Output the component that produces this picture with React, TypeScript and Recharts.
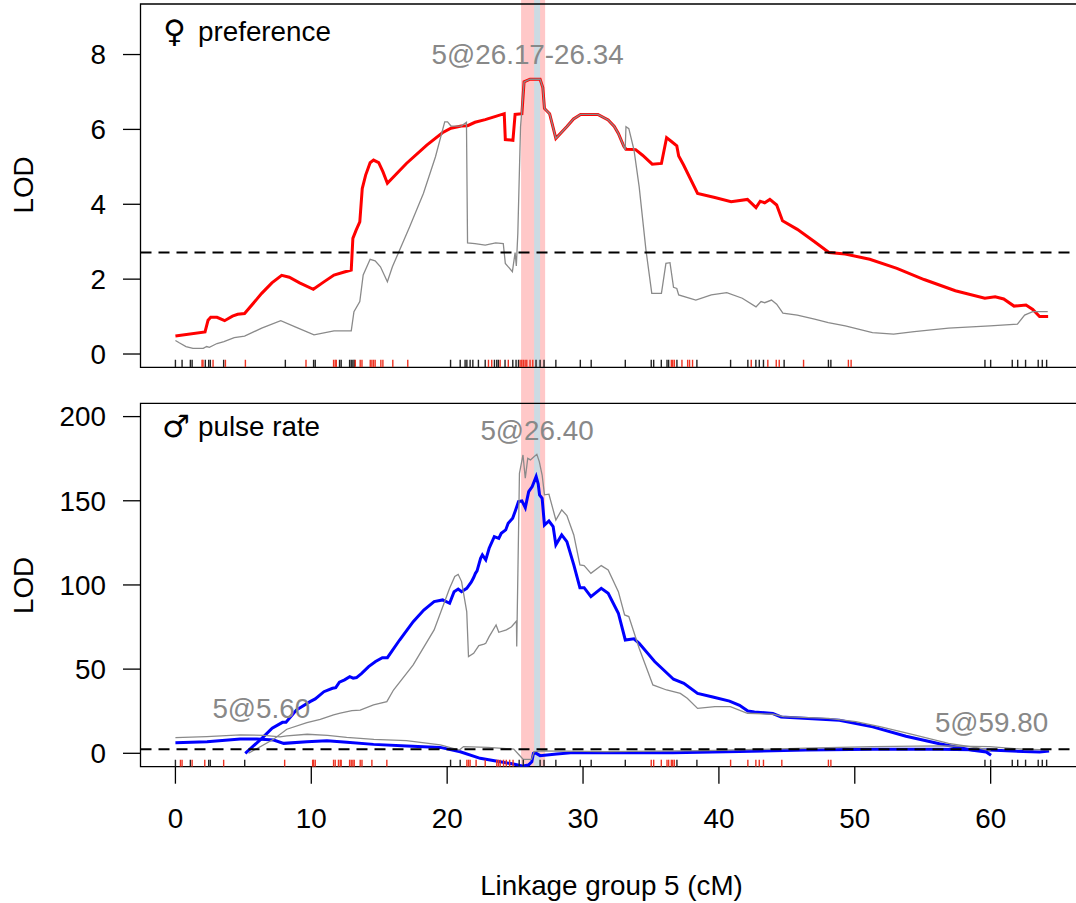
import React from 'react';
import { ComposedChart, Line, XAxis, YAxis, ReferenceLine, ReferenceArea, Scatter } from 'recharts';

// ---------- data ----------
const xTicks = [0, 10, 20, 30, 40, 50, 60];
const prefTicks = [0, 2, 4, 6, 8];
const pulseTicks = [0, 50, 100, 150, 200];
const prefThreshold = 2.71;
const pulseThreshold = 2.4;
const bandOuter = [25.44, 27.21];
const bandInner = [26.4, 26.84];

const prefRed: number[][] = [
  [0, 0.48], [2.18, 0.59], [2.4, 0.9], [2.6, 0.98], [3.06, 0.98], [3.62, 0.89], [4.2, 1.01], [4.58, 1.06],
  [5.09, 1.08], [6.35, 1.62], [7.1, 1.9], [7.82, 2.1], [8.38, 2.05], [9.14, 1.9], [10.15, 1.73], [10.9, 1.92],
  [11.67, 2.11], [12.43, 2.19], [12.94, 2.24], [13.06, 3.09], [13.3, 3.31], [13.57, 3.53], [13.75, 4.42],
  [14.0, 4.78], [14.33, 5.11], [14.58, 5.18], [14.96, 5.11], [15.27, 4.87], [15.6, 4.56], [17.0, 5.09],
  [18.5, 5.58], [19.65, 5.91], [20.28, 6.03], [21.04, 6.09], [21.5, 6.1], [22.05, 6.19], [22.8, 6.26],
  [23.57, 6.35], [24.2, 6.42], [24.28, 5.73], [24.84, 5.71], [25.0, 6.4], [25.5, 6.42], [25.66, 7.27],
  [26.1, 7.34], [26.84, 7.34], [27.04, 7.12], [27.16, 6.56], [27.54, 6.42], [28.0, 5.76], [28.8, 6.07],
  [29.3, 6.28], [29.82, 6.4], [31.09, 6.4], [31.85, 6.25], [32.3, 6.08], [32.6, 5.89], [33.0, 5.55],
  [33.16, 5.47], [33.87, 5.46], [34.38, 5.31], [35.09, 5.07], [35.77, 5.09], [36.15, 5.78], [36.53, 5.67],
  [36.9, 5.56], [37.04, 5.29], [37.4, 5.05], [38.43, 4.29], [39.7, 4.18], [40.9, 4.07], [42.1, 4.13],
  [42.73, 3.91], [43.04, 4.08], [43.37, 4.04], [43.75, 4.13], [44.25, 3.98], [44.68, 3.56], [45.77, 3.33],
  [47.04, 3.0], [48.1, 2.71], [49.3, 2.67], [51.1, 2.53], [53.1, 2.29], [55.1, 1.99], [57.4, 1.69],
  [59.57, 1.49], [60.33, 1.53], [60.96, 1.47], [61.72, 1.28], [62.6, 1.31], [63.1, 1.19], [63.6, 1.0], [64.23, 1.0],
];

const prefGray: number[][] = [
  [0, 0.36], [0.28, 0.3], [0.78, 0.2], [1.29, 0.15], [2.05, 0.15], [2.3, 0.2], [2.5, 0.18], [3.06, 0.28],
  [3.57, 0.33], [4.33, 0.44], [5.09, 0.48], [6.35, 0.69], [7.75, 0.89], [8.9, 0.71], [10.2, 0.51], [11.67, 0.62],
  [12.94, 0.62], [13.14, 1.13], [13.57, 1.4], [13.82, 2.11], [14.33, 2.53], [14.7, 2.49], [15.09, 2.33],
  [15.6, 1.93], [15.97, 2.33], [17.24, 3.4], [18.25, 4.29], [19.14, 5.27], [19.82, 6.2], [20.03, 6.2],
  [20.28, 6.09], [21.04, 6.09], [21.42, 6.19], [21.5, 2.97], [22.05, 2.95], [22.8, 2.91], [23.57, 2.97],
  [24.13, 2.95], [24.28, 2.42], [24.8, 2.2], [25.0, 2.71], [25.09, 2.35], [25.2, 3.22], [25.4, 6.07],
  [25.66, 7.27], [26.1, 7.34], [26.84, 7.34], [27.04, 7.12], [27.16, 6.56], [27.54, 6.42], [28.0, 5.76],
  [28.8, 6.07], [29.3, 6.28], [29.82, 6.4], [31.09, 6.4], [31.85, 6.25], [32.3, 6.08], [32.6, 5.89],
  [33.0, 5.55], [33.1, 5.45], [33.16, 6.07], [33.37, 6.02], [33.75, 5.45], [34.13, 4.47], [34.63, 2.78],
  [35.06, 1.62], [35.77, 1.62], [36.1, 2.42], [36.4, 2.44], [36.66, 1.78], [36.9, 1.75], [37.04, 1.58],
  [38.3, 1.44], [39.44, 1.58], [40.58, 1.64], [41.72, 1.49], [42.73, 1.26], [43.1, 1.4], [43.37, 1.37],
  [43.87, 1.44], [44.25, 1.33], [44.71, 1.09], [45.77, 1.04], [47.04, 0.93], [48.05, 0.84], [49.3, 0.75],
  [51.3, 0.57], [52.86, 0.53], [54.38, 0.6], [56.9, 0.69], [59.95, 0.75], [61.97, 0.8], [62.5, 1.04],
  [63.1, 1.13], [64.2, 1.13],
];

const pulseBlueMain: number[][] = [
  [5.14, 0], [6.36, 8.9], [7.12, 14.9], [7.88, 18.4], [8.14, 18.4], [8.9, 25.7], [9.91, 30.7], [10.29, 32.3],
  [10.93, 36.6], [11.56, 38.6], [11.8, 39.0], [12.07, 42.2], [12.45, 43.6], [12.83, 45.5], [13.08, 44.6],
  [13.33, 45.0], [13.71, 47.5], [14.22, 51.5], [14.73, 54.5], [15.23, 56.8], [15.6, 56.8], [16.5, 67.3],
  [17.5, 78.2], [18.28, 85.1], [19.04, 90.1], [19.67, 91.1], [20.18, 89.1], [20.51, 96.0], [20.81, 97.6],
  [21.06, 96], [21.44, 98], [21.77, 101.6], [21.95, 104.4], [22.08, 106.9], [22.2, 108.3], [22.46, 115.8],
  [22.59, 117.8], [22.84, 114.9], [23.09, 121.8], [23.47, 128.7], [23.8, 127.7], [23.98, 130.7],
  [24.31, 132.7], [24.49, 136.6], [24.82, 139.6], [25.0, 143.6], [25.25, 149.5], [25.5, 149.9],
  [25.75, 145.9], [26.0, 155.4], [26.26, 158.4], [26.55, 164.4], [26.7, 160], [26.8, 153.5], [26.99, 151.5],
  [27.16, 135.6], [27.49, 138], [27.8, 134.7], [28.0, 123.8], [28.43, 129.7], [28.81, 125.7], [29.32, 111.9],
  [29.77, 98.4], [30.08, 98.4], [30.58, 93.1], [31.34, 98], [31.85, 95], [32.6, 83.2], [33.11, 67.3],
  [33.75, 68], [34.13, 65.3], [35.27, 54.5], [36.66, 44], [37.42, 41.6], [38.43, 35.6], [39.55, 33.4],
  [40.78, 31.0], [41.52, 28.5], [42.13, 25.1], [42.62, 24.6], [43.97, 23.6], [44.58, 21.6], [48.87, 19.6],
  [51.32, 15.7], [53.77, 10.1], [56.23, 5.7], [58.68, 1.8], [59.67, 0.8], [60.03, -1.2],
];

const pulseGrayMain: number[][] = [
  [5.38, 0], [7.22, 8.3], [8.2, 14.3], [9.68, 18.2], [10.66, 20.2], [11.64, 22.8], [12.13, 23.8], [12.99, 25.3],
  [13.6, 25.7], [14.58, 28.7], [15.56, 30.7], [16.05, 37.6], [17.5, 52.5], [19.04, 73.3], [20.18, 98],
  [20.56, 105], [20.81, 106.3], [21.06, 102], [21.44, 84.2], [21.57, 57.4], [21.95, 59.4], [22.33, 64],
  [22.71, 64.8], [22.84, 65.3], [23.09, 69.3], [23.6, 76.2], [23.8, 71.9], [24.36, 73.3], [24.74, 75.2],
  [25.1, 78.6], [25.12, 63.4], [25.32, 166.3], [25.58, 177.2], [25.75, 163.4], [25.93, 175.2], [26.13, 174.3],
  [26.39, 176.2], [26.6, 177.6], [26.78, 173.3], [26.99, 165.3], [27.16, 153.5], [27.49, 153.9], [28.0, 138.6],
  [28.43, 144.6], [28.81, 141.2], [29.32, 129.7], [29.77, 111.9], [30.08, 111.5], [30.58, 106.9],
  [31.34, 111.5], [31.85, 108.9], [32.6, 96], [33.06, 82.2], [33.37, 81.2], [34.13, 62.4], [35.14, 40.6],
  [36.15, 37.6], [37.16, 35.6], [37.67, 32.7], [38.43, 26.7], [39.7, 27.7], [40.84, 27.7], [42.1, 23.8],
  [44.0, 23.2], [44.76, 21.8], [48.05, 20.8], [50.08, 18.8], [51.85, 15.8], [54.38, 10.9], [56.9, 5.9],
  [59.2, 3.0], [60.0, 1.5],
];

const pulseBlueLow: number[][] = [
  [0, 6.3], [2.33, 6.9], [4.78, 8.5], [6.0, 8.5], [7.23, 7.9], [7.97, 5.9], [9.68, 6.9], [11.15, 7.5],
  [12.62, 6.5], [14.58, 5.3], [17.03, 4.3], [19.49, 3.5], [20.96, 0.9], [22.43, -3.0], [23.9, -5.0],
  [24.88, -6.4], [25.6, -7.6], [25.98, -7.0], [26.23, -5.0], [26.35, 0], [26.47, 0.4], [26.84, -1.4],
  [28.06, -0.4], [29.29, 0.4], [31.99, 0.4], [36.6, 0.4], [41.5, 1.0], [46.4, 2.0], [51.3, 2.4], [56.2, 2.4],
  [59.9, 2.0], [62.4, 1.0], [63.6, 0.8], [64.3, 1.4],
];

const pulseGrayLow: number[][] = [
  [0, 9.3], [2.3, 9.9], [4.8, 10.9], [6.5, 10.7], [7.7, 9.7], [8.2, 10.3], [9.7, 11.3], [11.2, 10.7],
  [12.6, 9.5], [14.6, 8.3], [17.0, 7.5], [19.5, 5.0], [20.9, 1.9], [21.2, 4.0], [23.0, 3.5], [24.9, 2.5],
  [25.3, -1], [25.6, -3.6], [26.2, -3.6], [26.4, 1], [27, 1.4], [31.7, 1.0], [39, 1.6], [46.4, 3.0],
  [51.3, 4.0], [56.2, 4.4], [59.9, 4.0], [62.4, 2.4], [64.3, 2.0],
];

const prefMarkersBlack = [0, 0.49, 1.1, 1.23, 2.2, 2.45, 2.57, 3.55, 8.09, 10.17, 10.29, 12.08, 12.2, 12.82, 12.94,
  13.06, 13.16, 20.25, 20.96, 21.32, 21.45, 21.69, 21.89, 22.3, 22.8, 23.48, 23.65, 23.77, 24.26, 24.83, 25.07,
  25.25, 26.54, 26.84, 27.13, 28.0, 29.8, 30.6, 33.11, 35.02, 35.2, 35.76, 36.18, 36.3, 36.91, 38.38, 40.86,
  42.13, 42.72, 42.97, 43.28, 44.8, 48.06, 48.24, 59.58, 60.0, 61.59, 61.99, 62.57, 63.5, 63.8, 64.12];
const prefMarkersRed = [1.96, 2.03, 2.77, 3.68, 5.15, 9.61, 11.64, 11.76, 11.84, 13.24, 13.6, 13.73, 14.34, 14.46,
  14.58, 14.7, 15.12, 15.27, 16.0, 17.1, 23.04, 23.28, 23.9, 24.5, 25.37, 25.49, 25.61, 25.74, 25.86, 26.1, 26.3,
  36.5, 36.6, 36.72, 37.28, 37.7, 37.84, 38.06, 42.38, 43.6, 44.22, 44.44, 46.23, 49.53, 49.73];
const pulseMarkersBlack = [0, 1.1, 2.45, 2.57, 5.1, 20.25, 20.96, 25.3, 25.6, 26.84, 27.13, 28.0, 29.8, 30.6, 33.11,
  36.91, 38.38, 59.58, 60.0, 61.59, 61.99, 62.57, 63.5, 63.8, 64.12];
const pulseMarkersRed = [0.37, 0.49, 1.23, 2.16, 3.55, 8.04, 10.1, 10.17, 10.29, 11.64, 11.76, 12.0, 12.13, 12.2,
  12.82, 12.94, 13.06, 13.16, 13.6, 13.73, 14.46, 15.56, 21.45, 21.57, 21.69, 22.13, 22.8, 23.65, 23.77, 23.9,
  24.15, 24.35, 24.6, 24.85, 35.02, 35.2, 35.76, 36.18, 36.3, 36.5, 36.6, 36.72, 40.86, 42.13, 42.72, 42.97,
  43.28, 44.63, 48.06, 48.24];

// ---------- layout ----------
const FONT = '"Liberation Sans", Arial, Helvetica, sans-serif';
const SYM_FONT = '"DejaVu Sans", "Noto Sans", sans-serif';
const FS = 27.8;
const X_DOMAIN: [number, number] = [-2.57, 66.87];
const PREF_DOMAIN: [number, number] = [-0.355, 9.35];
const PULSE_DOMAIN: [number, number] = [-7.96, 207.9];
const GRAY = '#8a8a8a';
const TXT_GRAY = '#888888';
const RUG_RED = '#ee3322';

const pts = (a: number[][]) => a.map(([x, y]) => ({ x, y }));
const rug = (a: number[], y: number) => a.map((x) => ({ x, y }));

const rugShape = (color: string, len: number) => (p: any) => (
  <line x1={p.cx} x2={p.cx} y1={p.cy - len} y2={p.cy} stroke={color} strokeWidth={1.4} />
);

const tickLine = { stroke: '#000', strokeWidth: 1.3 };
const tickText = { fontSize: FS, fill: '#000', fontFamily: FONT };

export default function App() {
  return (
    <div style={{ position: 'absolute', left: 0, top: 0, width: 1076, height: 903, overflow: 'hidden', background: '#fff' }}>
      {/* top panel */}
      <div style={{ position: 'absolute', left: 0, top: 0 }}>
        <ComposedChart width={1100} height={404} margin={{ top: 4, right: 16, bottom: 0, left: 0.5 }}>
          <XAxis type="number" dataKey="x" domain={X_DOMAIN} ticks={xTicks} tick={false} tickSize={17}
            axisLine={false} tickLine={tickLine} height={36.7} allowDataOverflow />
          <YAxis type="number" dataKey="y" domain={PREF_DOMAIN} ticks={prefTicks} width={140} tickSize={17.5}
            tickMargin={17} axisLine={false} tickLine={tickLine} tick={tickText} allowDataOverflow />
          <ReferenceArea x1={bandOuter[0]} x2={bandOuter[1]} y1={-1.34} y2={9.46} ifOverflow="visible"
            fill="#ffc8c8" fillOpacity={1} stroke="none" />
          <ReferenceArea x1={bandInner[0]} x2={bandInner[1]} y1={-1.34} y2={9.46} ifOverflow="visible"
            fill="#cbdbe3" fillOpacity={1} stroke="none" />
          <Line data={pts(prefRed)} dataKey="y" type="linear" stroke="#ff0000" strokeWidth={3} dot={false}
            isAnimationActive={false} />
          <Line data={pts(prefGray)} dataKey="y" type="linear" stroke={GRAY} strokeWidth={1.3} dot={false}
            isAnimationActive={false} />
          <ReferenceLine y={prefThreshold} stroke="#000" strokeWidth={2} strokeDasharray="11 7" />
          <Scatter data={rug(prefMarkersBlack, PREF_DOMAIN[0])} dataKey="y" shape={rugShape('#222', 7.5)}
            isAnimationActive={false} />
          <Scatter data={rug(prefMarkersRed, PREF_DOMAIN[0])} dataKey="y" shape={rugShape(RUG_RED, 7.5)}
            isAnimationActive={false} />
          <ReferenceArea x1={X_DOMAIN[0]} x2={X_DOMAIN[1]} y1={PREF_DOMAIN[0]} y2={PREF_DOMAIN[1]}
            fill="none" stroke="#000" strokeWidth={1.3} />
        </ComposedChart>
      </div>

      {/* bottom panel */}
      <div style={{ position: 'absolute', left: 0, top: 0 }}>
        <ComposedChart width={1100} height={903} margin={{ top: 403.3, right: 16, bottom: 0, left: 0.5 }}>
          <XAxis type="number" dataKey="x" domain={X_DOMAIN} ticks={xTicks} tickSize={17} tickMargin={25}
            axisLine={false} tickLine={tickLine} tick={tickText} height={136.3} allowDataOverflow />
          <YAxis type="number" dataKey="y" domain={PULSE_DOMAIN} ticks={pulseTicks} width={140} tickSize={17.5}
            tickMargin={17} axisLine={false} tickLine={tickLine} tick={tickText} allowDataOverflow />
          <ReferenceArea x1={bandOuter[0]} x2={bandOuter[1]} y1={PULSE_DOMAIN[0]} y2={PULSE_DOMAIN[1]}
            ifOverflow="visible" fill="#ffc8c8" fillOpacity={1} stroke="none" />
          <ReferenceArea x1={bandInner[0]} x2={bandInner[1]} y1={PULSE_DOMAIN[0]} y2={PULSE_DOMAIN[1]}
            ifOverflow="visible" fill="#cbdbe3" fillOpacity={1} stroke="none" />
          <Line data={pts(pulseBlueMain)} dataKey="y" type="linear" stroke="#0000ff" strokeWidth={3} dot={false}
            isAnimationActive={false} />
          <Line data={pts(pulseBlueLow)} dataKey="y" type="linear" stroke="#0000ff" strokeWidth={3} dot={false}
            isAnimationActive={false} />
          <Line data={pts(pulseGrayMain)} dataKey="y" type="linear" stroke={GRAY} strokeWidth={1.3} dot={false}
            isAnimationActive={false} />
          <Line data={pts(pulseGrayLow)} dataKey="y" type="linear" stroke={GRAY} strokeWidth={1.3} dot={false}
            isAnimationActive={false} />
          <ReferenceLine y={pulseThreshold} stroke="#000" strokeWidth={2} strokeDasharray="11 7" />
          <Scatter data={rug(pulseMarkersBlack, PULSE_DOMAIN[0])} dataKey="y" shape={rugShape('#222', 7)}
            isAnimationActive={false} />
          <Scatter data={rug(pulseMarkersRed, PULSE_DOMAIN[0])} dataKey="y" shape={rugShape(RUG_RED, 7)}
            isAnimationActive={false} />
          <ReferenceArea x1={X_DOMAIN[0]} x2={X_DOMAIN[1]} y1={PULSE_DOMAIN[0]} y2={PULSE_DOMAIN[1]}
            fill="none" stroke="#000" strokeWidth={1.3} />
        </ComposedChart>
      </div>

      {/* text annotations */}
      <svg width={1076} height={903} style={{ position: 'absolute', left: 0, top: 0, pointerEvents: 'none' }}
        fontFamily={FONT} fontSize={FS}>
        <text x={163} y={42} fill="#000" fontFamily={SYM_FONT} fontSize={31}>♀</text>
        <text x={198} y={41} fill="#000">preference</text>
        <text x={527.6} y={64} fill={TXT_GRAY} textAnchor="middle">5@26.17-26.34</text>
        <text x={162} y={437} fill="#000" fontFamily={SYM_FONT} fontSize={31}>♂</text>
        <text x={198} y={436} fill="#000">pulse rate</text>
        <text x={537} y={440} fill={TXT_GRAY} textAnchor="middle">5@26.40</text>
        <text x={261.3} y={718} fill={TXT_GRAY} textAnchor="middle">5@5.60</text>
        <text x={991.5} y={731.5} fill={TXT_GRAY} textAnchor="middle">5@59.80</text>
        <text x={23} y={185} fill="#000" textAnchor="middle" dominantBaseline="central"
          transform="rotate(-90 23 185)">LOD</text>
        <text x={23} y={585.5} fill="#000" textAnchor="middle" dominantBaseline="central"
          transform="rotate(-90 23 585.5)">LOD</text>
        <text x={611.5} y={895} fill="#000" textAnchor="middle">Linkage group 5 (cM)</text>
      </svg>
    </div>
  );
}
